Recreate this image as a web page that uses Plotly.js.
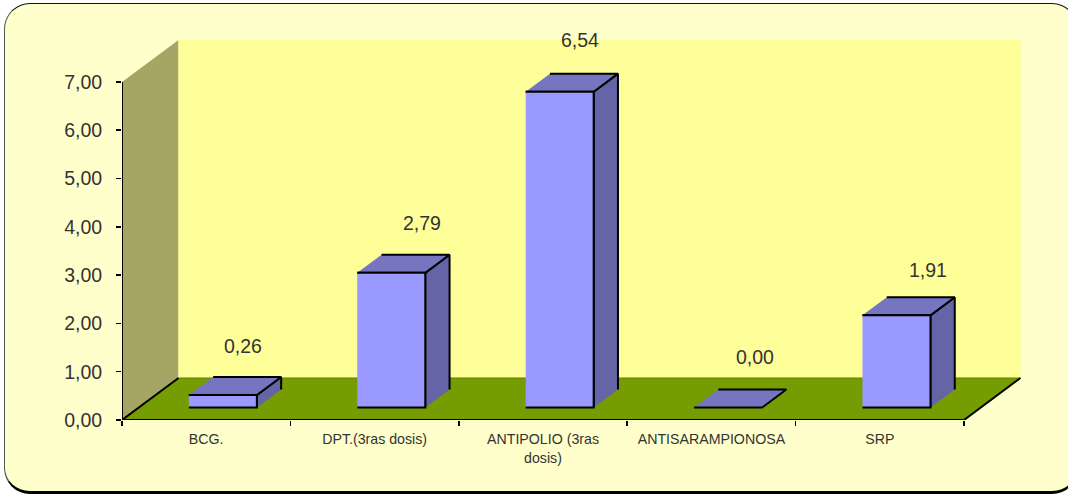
<!DOCTYPE html>
<html><head><meta charset="utf-8">
<script src="https://cdn.plot.ly/plotly-3.0.1.min.js"></script>
<style>
html,body{margin:0;padding:0;background:#fff;width:1068px;height:494px;overflow:hidden}
#frame{position:absolute;left:4px;top:3px;width:1072px;height:487px;box-sizing:content-box;background:#FFFFCB;
border:1px solid #111;border-left:1.5px solid #555;border-bottom:3px solid #000;border-radius:26px}
#chart{position:absolute;left:0;top:0;width:1068px;height:494px}
</style></head><body>
<div id="frame"></div><div id="chart"></div>
<script>
const categories = ["BCG.", "DPT.(3ras dosis)", "ANTIPOLIO (3ras<br>dosis)", "ANTISARAMPIONOSA", "SRP"];
const values = [0.26, 2.79, 6.54, 0.00, 1.91];
const valueLabels = ["0,26", "2,79", "6,54", "0,00", "1,91"];
const yTicks = [0, 1, 2, 3, 4, 5, 6, 7];
const yTickLabels = ["0,00", "1,00", "2,00", "3,00", "4,00", "5,00", "6,00", "7,00"];

// pixel geometry of the oblique projection
const L = 122, T = 20, W = 899, H = 400, catPx = 168.4, valPx = 48.3;
const depthPxX = 56.5, depthPxY = 42;
const dX = depthPxX / catPx, dY = depthPxY / valPx;      // full depth in axis units
const halfBar = 34 / catPx, nearD = 0.295, farD = 0.725;  // bar extents in the depth direction
const xMin = -0.5, xMax = xMin + W / catPx, yMax = H / valPx;
const nCat = categories.length, xEnd = nCat - 0.5, yEnd = yTicks[yTicks.length - 1];

const colors = {wall:'#FFFF99', side:'#A5A564', floor:'#759C00', front:'#9999FF', top:'#7575C0', right:'#6464A6', ink:'#000'};
const FONT = 'Liberation Sans, Arial, sans-serif';

function poly(pts, fill, lw, lc) {
  return {x: pts.map(p => p[0]), y: pts.map(p => p[1]), mode: lw ? 'lines' : 'none', type: 'scatter',
    fill: 'toself', fillcolor: fill, line: {color: lc || colors.ink, width: lw || 0},
    hoverinfo: 'skip', showlegend: false, cliponaxis: false};
}
function seg(pts, w, c) {
  return {x: pts.map(p => p[0]), y: pts.map(p => p[1]), mode: 'lines', type: 'scatter',
    line: {color: c || colors.ink, width: w}, hoverinfo: 'skip', showlegend: false, cliponaxis: false};
}
const P = (x, v, d) => [x + d * dX, v + d * dY];

const traces = [
  poly([P(xMin,0,0), P(xMin,yEnd,0), P(xMin,yEnd,1), P(xMin,0,1)], colors.side),
  poly([P(xMin,0,1), P(xMin,yEnd,1), P(xEnd,yEnd,1), P(xEnd,0,1)], colors.wall),
  poly([P(xMin,0,0), P(xEnd,0,0), P(xEnd,0,1), P(xMin,0,1)], colors.floor),
  seg([P(xMin,0,1), P(xEnd,0,1)], 1, '#5f7d00'),
  seg([P(xMin,0,1), P(xMin,0,0), P(xEnd,0,0), P(xEnd,0,1)], 2),
  seg([P(xMin,0,0), P(xMin,yEnd,0)], 2)
];
values.forEach((v, i) => {
  const a = i - halfBar, b = i + halfBar;
  if (v > 0) traces.push(poly([P(b,0,nearD), P(b,v,nearD), P(b,v,farD), P(b,0,farD)], colors.right, 2));
  traces.push(poly([P(a,v,nearD), P(b,v,nearD), P(b,v,farD), P(a,v,farD)], colors.top, 2));
  if (v > 0) traces.push(poly([P(a,0,nearD), P(b,0,nearD), P(b,v,nearD), P(a,v,nearD)], colors.front, 2));
});

// label offsets from the bar's front-top centre, in pixels
const labelDx = [20, 31, 20, 27, 32], labelDy = [49, 50, 52, 51, 45];
const annotations = values.map((v, i) => ({
  x: P(i, v, nearD)[0] + labelDx[i] / catPx, y: P(i, v, nearD)[1] + labelDy[i] / valPx,
  text: valueLabels[i], showarrow: false, xanchor: 'center', yanchor: 'middle',
  font: {family: FONT, size: 19.5, color: '#333'}
}));

const boundaries = [];
for (let i = 0; i <= nCat; i++) boundaries.push(i - 0.5);

Plotly.newPlot('chart', traces, {
  width: 1068, height: 494, showlegend: false,
  paper_bgcolor: 'rgba(0,0,0,0)', plot_bgcolor: 'rgba(0,0,0,0)',
  margin: {l: L, t: T, r: 1068 - L - W, b: 494 - T - H, pad: 0},
  xaxis: {range: [xMin, xMax], tickmode: 'array', tickvals: categories.map((c, i) => i), ticktext: categories,
    ticks: '', showgrid: false, zeroline: false, showline: false, tickangle: 0,
    ticklabelstandoff: 9, tickfont: {family: FONT, size: 14.2, color: '#333'},
    minor: {tickmode: 'array', tickvals: boundaries, ticks: 'outside', ticklen: 5, tickwidth: 1.5, tickcolor: '#000', showgrid: false}},
  yaxis: {range: [0, yMax], tickmode: 'array', tickvals: yTicks, ticktext: yTickLabels,
    ticks: 'outside', ticklen: 5, tickwidth: 1.5, tickcolor: '#000', showgrid: false, zeroline: false, showline: false,
    ticklabelstandoff: 10, tickfont: {family: FONT, size: 19.5, color: '#333'}},
  annotations: annotations
}, {displayModeBar: false, staticPlot: true});
</script>
</body></html>
